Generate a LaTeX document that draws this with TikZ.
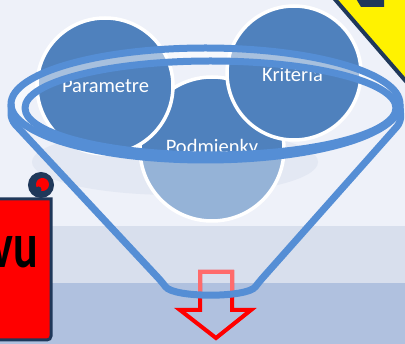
\documentclass[tikz,border=0pt]{standalone}
\usepackage{graphicx}
\usepackage{fontspec}
\setmainfont{Carlito}
\definecolor{bgtop}{RGB}{238,241,249}
\definecolor{bgband}{RGB}{216,223,237}
\definecolor{bgbot}{RGB}{176,193,223}
\definecolor{cdark}{RGB}{79,129,189}
\definecolor{clight}{RGB}{149,179,215}
\definecolor{ringc}{RGB}{85,142,213}
\definecolor{navy}{RGB}{31,56,90}
\definecolor{lightred}{RGB}{255,107,107}
\definecolor{shadowc}{RGB}{227,232,243}
\begin{document}
\begin{tikzpicture}[x=1pt,y=-1pt,
  bubble/.style={draw=white, line width=3.5pt},
  lbl/.style={text=white, font=\fontsize{20.5}{24}\selectfont, anchor=base, inner sep=0pt},
  ringline/.style={draw=ringc, line width=7pt, line join=round},
  arrowline/.style={line width=4pt, line join=miter},
]
\useasboundingbox (0,0) rectangle (405,344);
% background
\fill[bgtop] (0,0) rectangle (405,226);
\fill[bgband] (0,226) rectangle (405,283);
\fill[bgbot] (0,283) rectangle (405,344);
\fill[shadowc] (175,162) ellipse [x radius=143, y radius=33];
% arrow
\draw[red, arrowline] (200,272) -- (232,272) -- (232,310) -- (251,310) -- (216,338) -- (180,310) -- (200,310) -- cycle;
\begin{scope}
  \clip (11,0) -- (11,120) -- (162,282) .. controls (174,298) and (247,298) .. (259,282) -- (401,122) -- (401,0) -- cycle;
  \draw[lightred, arrowline] (200,272) -- (232,272) -- (232,310) -- (251,310) -- (216,338) -- (180,310) -- (200,310) -- cycle;
\end{scope}
% Podmienky circle
\fill[clight] (212,149) circle (72);
\begin{scope}
  \clip (205.5,104) ellipse [x radius=194.5, y radius=56];
  \fill[cdark] (212,149) circle (72);
\end{scope}
\draw[bubble] (212,149) circle (72);
% Parametre and Kriteria circles
\filldraw[fill=cdark, bubble] (105,86) circle (68);
\filldraw[fill=cdark, bubble] (294,73) circle (67);
% labels
\node[lbl] (tpar) at (105.5,93) {Parametre};
\node[lbl] (tkri) at (292.5,82) {Kritéria};
\node[lbl] (tpod) at (212,154) {Podmienky};
% funnel rim
\fill[white, opacity=.5, even odd rule] (205.5,104) ellipse [x radius=194.5, y radius=56] (210.5,108) ellipse [x radius=185.5, y radius=47];
\draw[ringline] (205.5,104) ellipse [x radius=194.5, y radius=56];
\draw[ringline] (210.5,108) ellipse [x radius=185.5, y radius=47];
\draw[ringline, rounded corners=6] (11,104) -- (11,120) -- (162,282) .. controls (174,298) and (247,298) .. (259,282) -- (401,122) -- (400,104);
% red scroll box
\draw[fill=red, draw=navy, line width=3pt] (-5,199) -- (51,199) -- (51,336) arc[start angle=0, end angle=90, radius=4] -- (-5,340);
\filldraw[navy, line width=3pt] (41,185) circle (11.5);
\fill[red] (42.5,184.5) circle (6.5);
\fill[navy] (38.5,189.5) circle (3);
\node[font=\bfseries\fontsize{64}{70}\selectfont, anchor=base east, inner sep=0pt] (vu) at (38.5,268) {\scalebox{0.72}[1]{vu}};
% yellow shape
\fill[yellow] (333,-3) -- (410,86) -- (410,-3) -- cycle;
\draw[navy, line width=4pt] (333,-3) -- (410,86);
\fill[navy] (355,-3) -- (361,7) -- (384,7) -- (384,-3) -- cycle;
\end{tikzpicture}
\end{document}
